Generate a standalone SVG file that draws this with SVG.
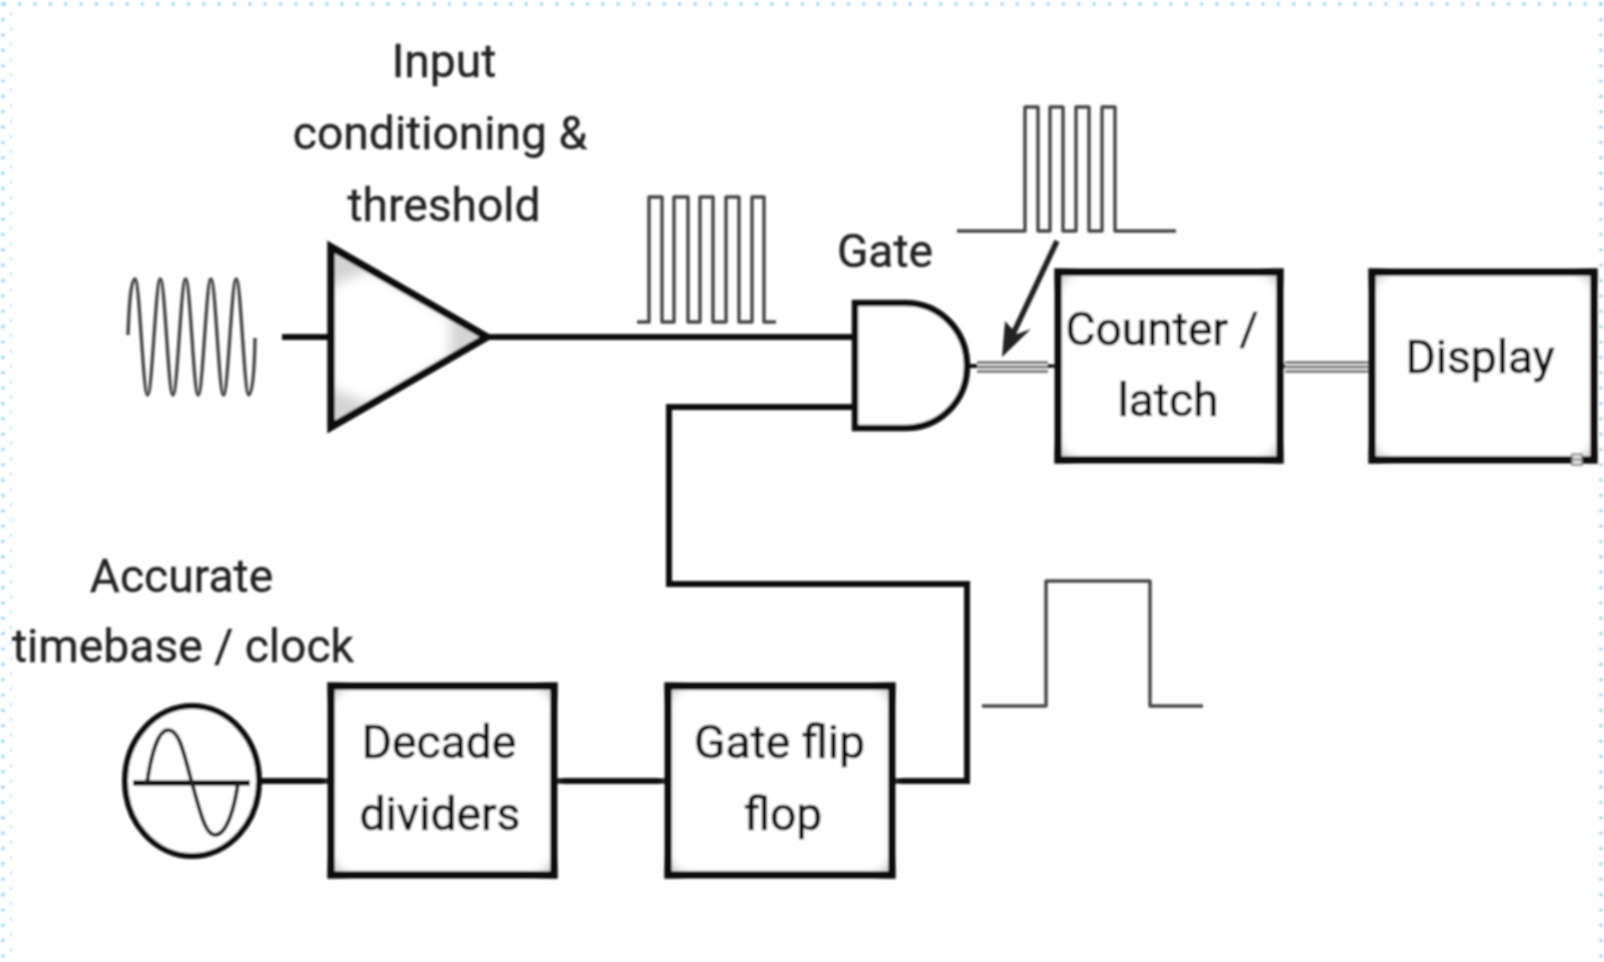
<svg xmlns="http://www.w3.org/2000/svg" width="1604" height="962" viewBox="0 0 1604 962">
<style>
.l{font-family:Roboto,"Liberation Sans",sans-serif;font-size:46.2px;fill:#222;stroke:#222;stroke-width:.35px;text-anchor:middle}
.b{fill:#111;stroke:#111;stroke-width:.7px}
.box{fill:#fff;stroke:none}
.frame{fill:none;stroke:#0a0a0a;stroke-width:7.5;stroke-linejoin:miter}
.shade{fill:#d0d0d0;stroke:none}
.wire{fill:none;stroke:#111;stroke-width:6;stroke-linejoin:miter}
.wave{fill:none;stroke:#444;stroke-width:3.4;stroke-linejoin:round}
.bus{stroke:#6a6a6a;stroke-width:2.4;fill:none}
.dot{fill:none;stroke:#7ccbf7;stroke-width:3;stroke-dasharray:2.6 12.75}
.dot2{fill:none;stroke:#bfe5fb;stroke-width:2;stroke-dasharray:3 12.35}
</style>
<defs>
<filter id="soft" x="-5%" y="-5%" width="110%" height="110%"><feGaussianBlur stdDeviation="0.9"/></filter>
<filter id="glow" x="-20%" y="-20%" width="140%" height="140%"><feGaussianBlur stdDeviation="4"/></filter>
<filter id="glow2" x="-20%" y="-20%" width="140%" height="140%"><feGaussianBlur stdDeviation="6"/></filter>
<clipPath id="triClip"><path d="M331 247L487 337L331 427Z"/></clipPath>
</defs>
<rect width="1604" height="962" fill="#fff"/>
<g id="border" filter="url(#soft)">
<path class="dot" d="M3 4H1604"/>
<path class="dot" d="M3 3V962"/>
<path class="dot2" d="M11 12V962"/>
<path class="dot" d="M1601 3V962"/>
</g>
<g filter="url(#soft)">
<g id="connectors">
<path class="wire" d="M282 337H331"/>
<path class="wire" d="M487 337H855"/>
<path class="wire" d="M855 407H669V584H967V781H892"/>
<path class="wire" d="M260 781H331"/>
<path class="wire" d="M554 781H668"/>
<path class="wire" style="stroke-width:4" d="M967 366H977M1048 366H1058M1280 366H1285"/>
<path class="bus" d="M977 362.500H1048M977 367H1048M977 371.500H1048"/>
<path class="bus" d="M1285 362.500H1370M1285 367H1370M1285 371.500H1370"/>
<path d="M1057 241L1014 332" fill="none" stroke="#222" stroke-width="5.500"/>
<path d="M1002 357L1005 321L1017 334L1031 329Z" fill="#222"/>
</g>
<g id="input-wave"><path class="wave" d="M128 335C129 305 131 279 135 279C139.600 279 143 395 147.600 395C152.200 395 155.700 279 160.300 279C164.900 279 168.300 395 172.900 395C177.500 395 181 279 185.600 279C190.200 279 193.600 395 198.200 395C202.800 395 206.300 279 210.900 279C215.500 279 218.900 395 223.500 395C228.100 395 231.600 279 236.200 279C240.800 279 244.200 395 248.800 395C252.500 395 254.500 370 255 338"/></g>
<g id="pulses-a"><path class="wave" d="M637 322H649V197H662V322H674V197H688V322H700V197H713V322H726V197H739V322H752V197H764V322H776"/></g>
<g id="pulses-b"><path class="wave" d="M957 231H1025V107H1038V231H1050V107H1063V231H1076V107H1089V231H1102V107H1115V231H1176"/></g>
<g id="pulse-c"><path class="wave" d="M982 706H1046V581H1150V706H1203"/></g>
<g id="amplifier">
<path d="M331 247L487 337L331 427Z" fill="#d4d4d4"/>
<g clip-path="url(#triClip)"><path d="M331 286L370 270L450 316L450 358L370 404L331 388Z" fill="#fff" filter="url(#glow2)"/></g>
<path class="frame" d="M331 247L487 337L331 427Z"/>
</g>
<g id="and-gate">
<path d="M855 303H905C940 303 967 331 967 366C967 401 940 428 905 428H855Z" fill="#fff" stroke="#0a0a0a" stroke-width="6.500"/>
</g>
<g id="counter">
<rect class="shade" x="1058" y="272" width="222" height="188"/>
<rect class="box" x="1058" y="272" width="222" height="188" rx="26" filter="url(#glow)"/>
<rect class="frame" x="1058" y="272" width="222" height="188"/>
<text class="l b" x="1162" y="345">Counter /</text>
<text class="l b" x="1168" y="416">latch</text>
</g>
<g id="display">
<rect class="shade" x="1372" y="272" width="222" height="188"/>
<rect class="box" x="1372" y="272" width="222" height="188" rx="26" filter="url(#glow)"/>
<rect class="frame" x="1372" y="272" width="222" height="188"/>
<text class="l b" x="1480" y="373">Display</text>
<rect x="1572" y="454" width="10" height="11" fill="#ddd" stroke="#777" stroke-width="1.500"/>
<path d="M1572 459.500H1582" stroke="#777" stroke-width="1.500"/>
</g>
<g id="decade">
<rect class="shade" x="331" y="686" width="223" height="189"/>
<rect class="box" x="331" y="686" width="223" height="189" rx="26" filter="url(#glow)"/>
<rect class="frame" x="331" y="686" width="223" height="189"/>
<text class="l b" x="439" y="758">Decade</text>
<text class="l b" x="440" y="830">dividers</text>
</g>
<g id="flipflop">
<rect class="shade" x="668" y="686" width="224" height="189"/>
<rect class="box" x="668" y="686" width="224" height="189" rx="26" filter="url(#glow)"/>
<rect class="frame" x="668" y="686" width="224" height="189"/>
<text class="l b" x="779.500" y="758">Gate flip</text>
<text class="l b" x="783" y="830">flop</text>
</g>
<g id="clock">
<ellipse cx="192" cy="781" rx="67" ry="75" fill="#fff" stroke="#0a0a0a" stroke-width="6"/>
<path d="M133 783H250" fill="none" stroke="#0a0a0a" stroke-width="5.500"/>
<path d="M147 783C151 755 158 730 168 730C180 730 184 755 192 783C200 811 205 835 215 835C226 835 234 811 238 783" fill="none" stroke="#222" stroke-width="4"/>
</g>
<g id="labels">
<text class="l" x="444" y="77">Input</text>
<text class="l" x="440" y="149">conditioning &amp;</text>
<text class="l" x="444" y="221">threshold</text>
<text class="l" x="885" y="267">Gate</text>
<text class="l" x="181.500" y="592">Accurate</text>
<text class="l" x="183" y="662">timebase / clock</text>
</g>
</g>
</svg>
